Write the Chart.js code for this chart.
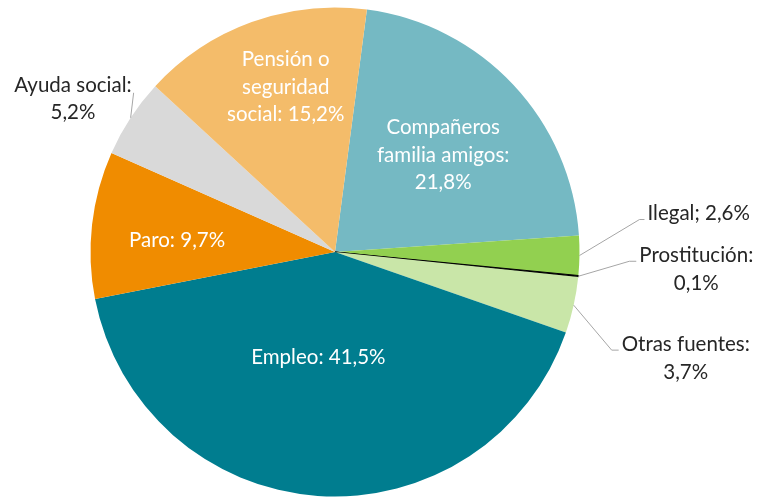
<!DOCTYPE html>
<html>
<head>
<meta charset="utf-8">
<script src="https://cdn.jsdelivr.net/npm/chart.js@4/dist/chart.umd.min.js"></script>
<style>
  body { margin: 0; background: #fff; }
  #wrap { width: 758px; height: 497px; }
</style>
</head>
<body>
<div id="wrap"><canvas id="myChart" width="758" height="497"></canvas></div>
<script>
const categories = [
    'Compañeros familia amigos',
    'Ilegal',
    'Prostitución',
    'Otras fuentes',
    'Empleo',
    'Paro',
    'Ayuda social',
    'Pensión o seguridad social',
];
const values = [21.8, 2.6, 0.1, 3.7, 41.5, 9.7, 5.2, 15.2];
const colors = ['#75b9c3', '#92d050', '#000000', '#c9e6a8', '#007d8f', '#f08c00', '#d9d9d9', '#f4bc6a'];

// formato español: 21,8%
const pct = v => v.toFixed(1).replace('.', ',') + '%';

// texto de cada etiqueta, por líneas
const labelLines = [
    ['Compañeros', 'familia amigos:', pct(values[0])],
    ['Ilegal; ' + pct(values[1])],
    ['Prostitución:', pct(values[2])],
    ['Otras fuentes:', pct(values[3])],
    ['Empleo: ' + pct(values[4])],
    ['Paro: ' + pct(values[5])],
    ['Ayuda social:', pct(values[6])],
    ['Pensión o', 'seguridad', 'social: ' + pct(values[7])],
];

// como se coloca cada etiqueta (dentro o fuera con línea guía)
const labelLayout = [
    { inside: true, r: 0.59, dx: 3, dy: 2 },
    { elbow: [60, -36], tail: 5, dy: -6 },
    { elbow: [51, -15], tail: 7, dy: 8 },
    { elbow: [38, 45], tail: 7, dy: 8.5 },
    { inside: true, r: 0.44, dx: -9, dy: -2 },
    { inside: true, r: 0.65, dx: 0, dy: 6 },
    { elbow: [3, -25], tail: 0, dy: 6, left: true },
    { inside: true, r: 0.70, dx: 9, dy: -4 },
];

const FONT = '20.5px Lato';
const LINE_H = 27.5;

const pieLabels = {
    id: 'pieLabels',
    afterDatasetsDraw(chart) {
        const ctx = chart.ctx;
        const arcs = chart.getDatasetMeta(0).data;
        ctx.save();
        ctx.font = FONT;
        ctx.textBaseline = 'middle';
        ctx.textAlign = 'center';
        arcs.forEach((arc, i) => {
            const cfg = labelLayout[i];
            const lines = labelLines[i];
            const mid = (arc.startAngle + arc.endAngle) / 2;
            const R = arc.outerRadius;
            const n = lines.length;
            if (cfg.inside) {
                const cx = arc.x + Math.cos(mid) * R * cfg.r + cfg.dx;
                const cy = arc.y + Math.sin(mid) * R * cfg.r + cfg.dy;
                ctx.fillStyle = '#ffffff';
                lines.forEach((t, k) => {
                    ctx.fillText(t, cx, cy + (k - (n - 1) / 2) * LINE_H);
                });
                return;
            }
            // línea guía
            const ex = arc.x + Math.cos(mid) * R;
            const ey = arc.y + Math.sin(mid) * R;
            const bx = ex + cfg.elbow[0];
            const by = ey + cfg.elbow[1];
            const tx = bx + (cfg.left ? -cfg.tail : cfg.tail);
            ctx.strokeStyle = '#a6a6a6';
            ctx.lineWidth = 1;
            ctx.beginPath();
            ctx.moveTo(ex, ey);
            ctx.lineTo(bx, by);
            ctx.lineTo(tx, by);
            ctx.stroke();
            const w = Math.max(...lines.map(t => ctx.measureText(t).width));
            const cx = cfg.left ? tx - 2 - w / 2 : tx + 3 + w / 2;
            const cy = by + cfg.dy;
            ctx.fillStyle = '#262626';
            lines.forEach((t, k) => {
                ctx.fillText(t, cx, cy + (k - (n - 1) / 2) * LINE_H);
            });
        });
        ctx.restore();
    }
};

const data = {
    labels: categories,
    datasets: [{
        data: values,
        backgroundColor: colors,
        borderColor: '#000000',
        borderWidth: [0, 0, 1, 0, 0, 0, 0, 0],
    }]
};

const config = {
    type: 'pie',
    data: data,
    options: {
        responsive: false,
        animation: false,
        rotation: 7.5,
        layout: {
            padding: { top: 7, bottom: 0, left: 0, right: 88 }
        },
        plugins: {
            legend: { display: false },
            tooltip: { enabled: false }
        }
    },
    plugins: [pieLabels]
};

const myChart = new Chart(
    document.getElementById('myChart'),
    config
);
</script>
</body>
</html>
